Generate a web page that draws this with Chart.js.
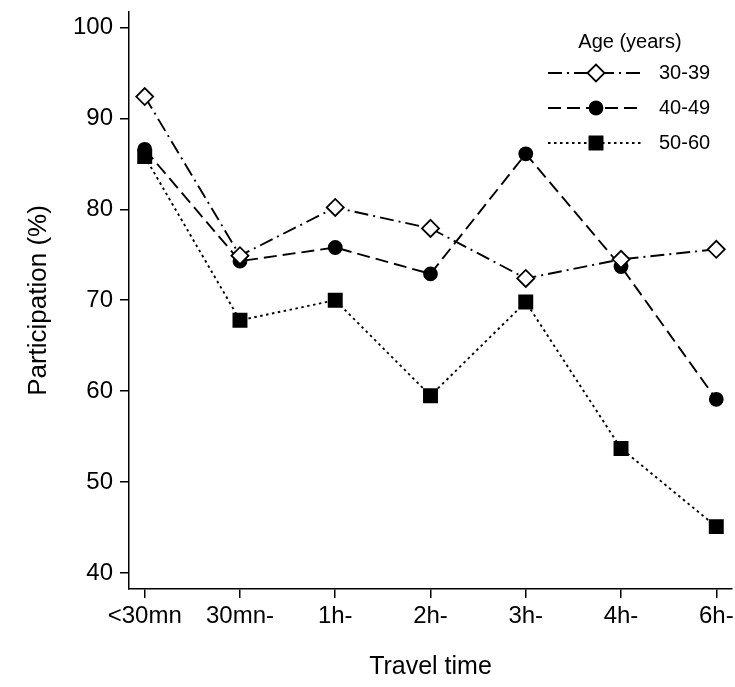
<!DOCTYPE html>
<html>
<head>
<meta charset="utf-8">
<script src="https://cdn.jsdelivr.net/npm/chart.js@4.4.1/dist/chart.umd.min.js"></script>
<style>
  html, body { margin: 0; padding: 0; background: #fff; }
</style>
</head>
<body>
<canvas id="travel" width="735" height="687"></canvas>
<script>
const travelTimes = ["<30mn", "30mn-", "1h-", "2h-", "3h-", "4h-", "6h-"];
const age30to39 = [92.4, 74.9, 80.2, 77.9, 72.4, 74.5, 75.6];
const age40to49 = [86.6, 74.3, 75.8, 72.9, 86.1, 73.7, 59.1];
const age50to60 = [85.8, 67.8, 70.0, 59.5, 69.8, 53.7, 45.1];
const yTicks = [40, 50, 60, 70, 80, 90, 100];

const FONT = "'Liberation Sans', Arial, Helvetica, sans-serif";
const INK = "#000";

function points(values) {
  return values.map((v, i) => ({ x: i, y: v }));
}

function series(label, values, dash, style, radius, fill) {
  return {
    label: label,
    data: points(values),
    borderColor: INK,
    borderWidth: 1.9,
    borderDash: dash,
    pointStyle: style,
    pointRadius: radius,
    pointBackgroundColor: fill,
    pointBorderColor: INK,
    pointBorderWidth: 1.8,
    fill: false,
    tension: 0,
    clip: false,
  };
}

// end labels may hang past the axes; keep the plot area where it is
function noLabelPadding(scale) {
  scale.paddingLeft = 0;
  scale.paddingRight = 0;
  scale.paddingTop = 0;
  scale.paddingBottom = 0;
}

// legend drawn by hand so the line samples keep their dash patterns
const ageLegend = {
  id: "ageLegend",
  afterDraw(chart) {
    const ctx = chart.ctx;
    ctx.save();
    ctx.fillStyle = INK;
    ctx.font = "20px " + FONT;
    ctx.textAlign = "center";
    ctx.textBaseline = "middle";
    ctx.fillText("Age (years)", 630, 42);
    chart.data.datasets.forEach((ds, i) => {
      const y = 73 + i * 35;
      ctx.strokeStyle = INK;
      ctx.lineWidth = ds.borderWidth;
      ctx.setLineDash(ds.borderDash);
      ctx.beginPath();
      ctx.moveTo(548, y);
      ctx.lineTo(643, y);
      ctx.stroke();
      ctx.setLineDash([]);
      ctx.fillStyle = ds.pointBackgroundColor;
      ctx.lineWidth = ds.pointBorderWidth;
      Chart.helpers.drawPoint(ctx, {
        pointStyle: ds.pointStyle,
        radius: ds.pointRadius,
        rotation: 0,
        borderWidth: ds.pointBorderWidth,
      }, 596, y);
      ctx.fillStyle = INK;
      ctx.textAlign = "left";
      ctx.fillText(ds.label, 659, y);
    });
    ctx.restore();
  },
};

const axisLine = {
  drawOnChartArea: false,
  drawTicks: true,
  tickLength: 9,
  color: INK,
  lineWidth: 1.5,
};

new Chart(document.getElementById("travel"), {
  type: "line",
  data: {
    datasets: [
      series("30-39", age30to39, [14, 5, 2, 5], "rectRot", 8.5, "#fff"),
      series("40-49", age40to49, [13, 6], "circle", 6.5, INK),
      series("50-60", age50to60, [2.5, 3.5], "rect", 9.3, INK),
    ],
  },
  options: {
    responsive: false,
    animation: false,
    layout: {
      autoPadding: false,
      padding: { top: 12, right: 3, left: 0, bottom: 0 },
    },
    plugins: {
      legend: { display: false },
      tooltip: { enabled: false },
    },
    scales: {
      x: {
        type: "linear",
        min: -0.165,
        max: 6.165,
        afterBuildTicks(scale) {
          scale.ticks = travelTimes.map((t, i) => ({ value: i }));
        },
        afterFit(scale) {
          scale.height = 98;
          noLabelPadding(scale);
        },
        grid: axisLine,
        border: { color: INK, width: 1.5 },
        ticks: {
          color: INK,
          padding: 4,
          maxRotation: 0,
          autoSkip: false,
          font: { family: FONT, size: 24 },
          callback: (v) => travelTimes[v],
        },
        title: {
          display: true,
          text: "Travel time",
          color: INK,
          padding: { top: 0, bottom: 5 },
          font: { family: FONT, size: 25 },
        },
      },
      y: {
        min: 38.24,
        max: 101.7,
        afterBuildTicks(scale) {
          scale.ticks = yTicks.map((v) => ({ value: v }));
        },
        afterFit(scale) {
          scale.width = 129;
          noLabelPadding(scale);
        },
        grid: axisLine,
        border: { color: INK, width: 1.5 },
        ticks: {
          color: INK,
          padding: 7,
          font: { family: FONT, size: 24 },
        },
        title: {
          display: true,
          text: "Participation (%)",
          color: INK,
          padding: { top: 23, bottom: 0 },
          font: { family: FONT, size: 26 },
        },
      },
    },
  },
  plugins: [ageLegend],
});
</script>
</body>
</html>
